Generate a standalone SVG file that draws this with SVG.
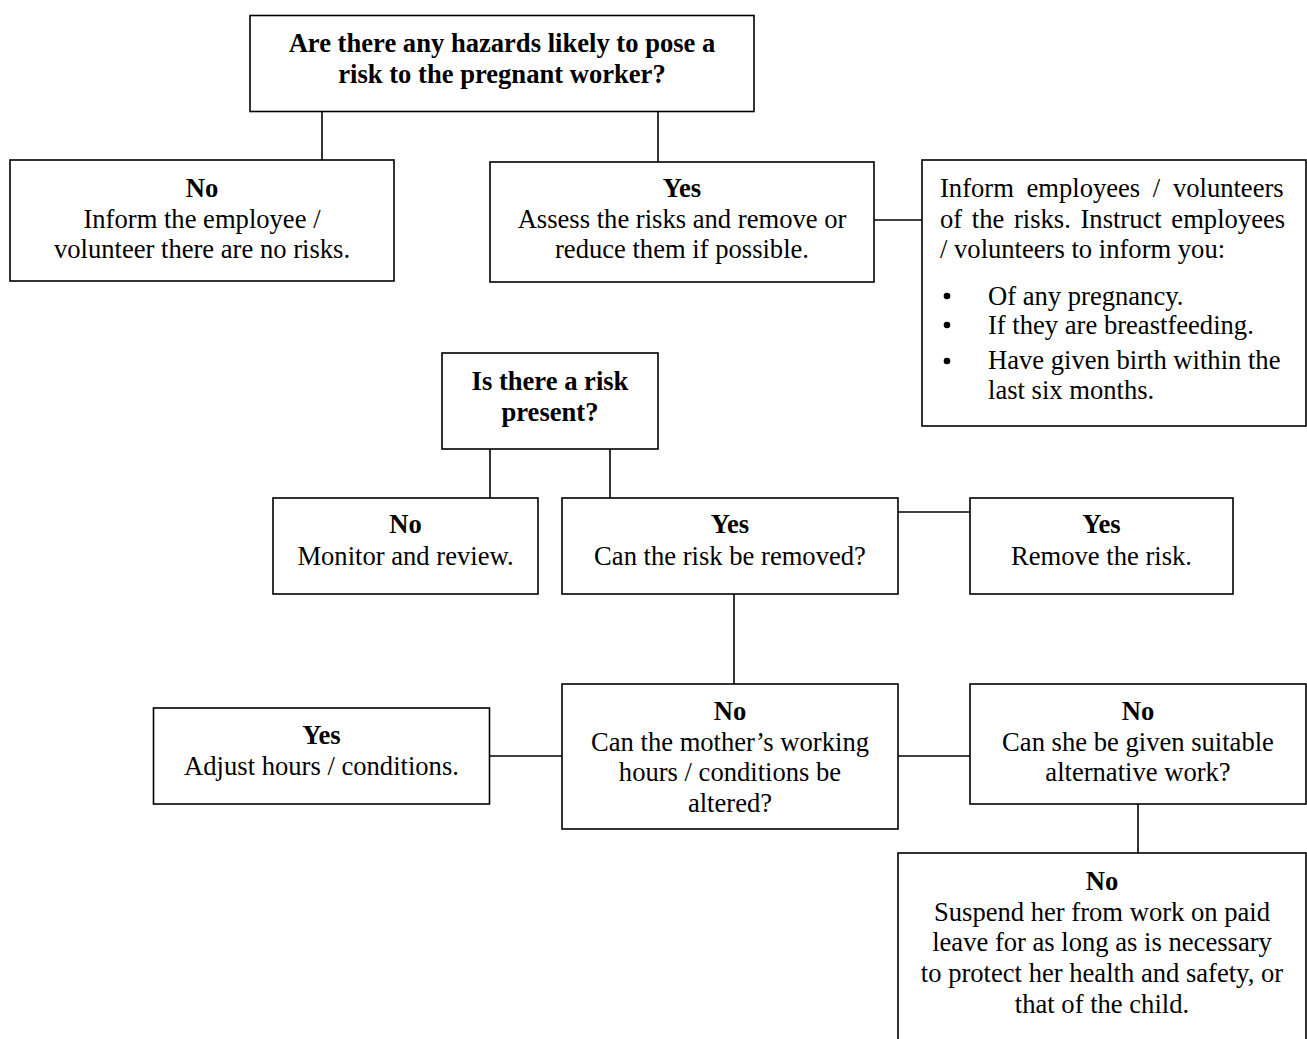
<svg xmlns="http://www.w3.org/2000/svg" width="1307" height="1039" viewBox="0 0 1307 1039">
<style>
rect.box{fill:#fff;stroke:#000;stroke-width:1.6}
.conn line{stroke:#000;stroke-width:1.6}
text{font-family:"Liberation Serif","Times New Roman",serif;font-size:26.6px;fill:#000}
.c{text-anchor:middle}
.b{font-weight:bold}
</style>
<rect width="1307" height="1039" fill="#fff"/>
<g class="conn" id="connectors">
<line x1="322" y1="111" x2="322" y2="160"/>
<line x1="658" y1="111" x2="658" y2="162"/>
<line x1="874" y1="220" x2="922" y2="220"/>
<line x1="490" y1="449" x2="490" y2="498"/>
<line x1="610" y1="449" x2="610" y2="498"/>
<line x1="898" y1="512" x2="970" y2="512"/>
<line x1="734" y1="594" x2="734" y2="684"/>
<line x1="490" y1="756" x2="562" y2="756"/>
<line x1="898" y1="756" x2="970" y2="756"/>
<line x1="1138" y1="804" x2="1138" y2="853"/>
</g>
<g id="n-hazards">
<rect class="box" x="250" y="15.5" width="504" height="96"/>
<text class="c b" x="502" y="52">Are there any hazards likely to pose a</text>
<text class="c b" x="502" y="83">risk to the pregnant worker?</text>
</g>
<g id="n-no1">
<rect class="box" x="10" y="160" width="384" height="121"/>
<text class="c b" x="202" y="197">No</text>
<text class="c" x="202" y="228">Inform the employee /</text>
<text class="c" x="202" y="258">volunteer there are no risks.</text>
</g>
<g id="n-yes1">
<rect class="box" x="490" y="162" width="384" height="120"/>
<text class="c b" x="682" y="197">Yes</text>
<text class="c" x="682" y="228">Assess the risks and remove or</text>
<text class="c" x="682" y="258">reduce them if possible.</text>
</g>
<g id="n-inform">
<rect class="box" x="922" y="160" width="384" height="266"/>
<text x="940" y="197" word-spacing="6">Inform employees / volunteers</text>
<text x="940" y="228" word-spacing="3">of the risks. Instruct employees</text>
<text x="940" y="258">/ volunteers to inform you:</text>
<circle cx="947" cy="296" r="3.3"/>
<text x="988" y="305">Of any pregnancy.</text>
<circle cx="947" cy="325" r="3.3"/>
<text x="988" y="334">If they are breastfeeding.</text>
<circle cx="947" cy="361" r="3.3"/>
<text x="988" y="369">Have given birth within the</text>
<text x="988" y="399">last six months.</text>
</g>
<g id="n-risk">
<rect class="box" x="442" y="353" width="216" height="96"/>
<text class="c b" x="550" y="390">Is there a risk</text>
<text class="c b" x="550" y="421">present?</text>
</g>
<g id="n-no2">
<rect class="box" x="273" y="498" width="265" height="96"/>
<text class="c b" x="405.5" y="533">No</text>
<text class="c" x="405.5" y="565">Monitor and review.</text>
</g>
<g id="n-yes2">
<rect class="box" x="562" y="498" width="336" height="96"/>
<text class="c b" x="730" y="533">Yes</text>
<text class="c" x="730" y="565">Can the risk be removed?</text>
</g>
<g id="n-remove">
<rect class="box" x="970" y="498" width="263" height="96"/>
<text class="c b" x="1101.5" y="533">Yes</text>
<text class="c" x="1101.5" y="565">Remove the risk.</text>
</g>
<g id="n-adjust">
<rect class="box" x="153.5" y="708" width="336" height="96"/>
<text class="c b" x="321.5" y="744">Yes</text>
<text class="c" x="321.5" y="775">Adjust hours / conditions.</text>
</g>
<g id="n-alter">
<rect class="box" x="562" y="684" width="336" height="145"/>
<text class="c b" x="730" y="720">No</text>
<text class="c" x="730" y="751">Can the mother’s working</text>
<text class="c" x="730" y="781">hours / conditions be</text>
<text class="c" x="730" y="812">altered?</text>
</g>
<g id="n-alt">
<rect class="box" x="970" y="684" width="336" height="120"/>
<text class="c b" x="1138" y="720">No</text>
<text class="c" x="1138" y="751">Can she be given suitable</text>
<text class="c" x="1138" y="781">alternative work?</text>
</g>
<g id="n-suspend">
<rect class="box" x="898" y="853" width="408" height="200"/>
<text class="c b" x="1102" y="890">No</text>
<text class="c" x="1102" y="921">Suspend her from work on paid</text>
<text class="c" x="1102" y="951">leave for as long as is necessary</text>
<text class="c" x="1102" y="982">to protect her health and safety, or</text>
<text class="c" x="1102" y="1013">that of the child.</text>
</g>
</svg>
